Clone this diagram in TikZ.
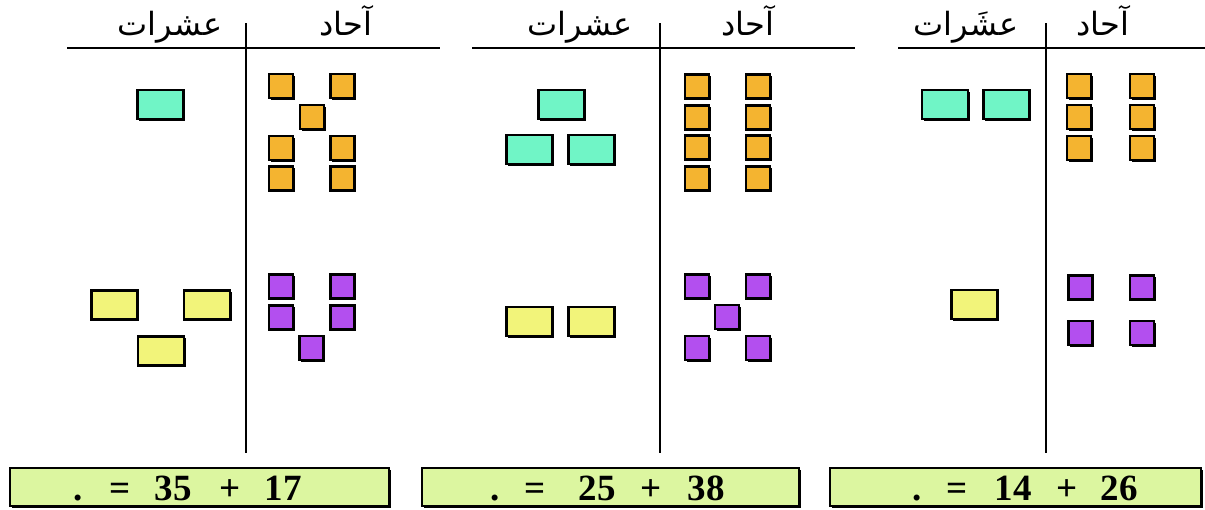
\documentclass[tikz,border=0pt]{standalone}
\usepackage{fontspec}
\setmainfont{Liberation Serif}
\newfontfamily\arabicfont[Script=Arabic]{DejaVu Sans}
\TeXXeTstate=1
\usetikzlibrary{shadows}
\definecolor{tealc}{HTML}{70F5C6}
\definecolor{orangec}{HTML}{F4B430}
\definecolor{yellowc}{HTML}{F2F47A}
\definecolor{purplec}{HTML}{B34FEF}
\definecolor{boxc}{HTML}{DCF6A0}
\tikzset{
  tile/.style={draw=black, line width=2.2pt, inner sep=0pt, outer sep=0pt,
    drop shadow={shadow xshift=1.8pt, shadow yshift=-1.8pt, fill=black, opacity=1}},
  ten/.style={tile, minimum width=46pt, minimum height=29pt},
  one/.style={tile, minimum width=24pt, minimum height=24pt},
  rule/.style={line width=2.8pt, black},
  head/.style={font=\arabicfont\fontsize{32}{36}\selectfont, inner sep=0pt, anchor=base},
  eqbox/.style={draw=black, line width=2.6pt, fill=boxc,
    drop shadow={shadow xshift=1.5pt, shadow yshift=-1.5pt, fill=black, opacity=1}},
  eqtxt/.style={font=\bfseries\fontsize{37}{40}\selectfont, inner sep=0pt, anchor=base}
}
\begin{document}
\begin{tikzpicture}[x=1pt,y=-1pt]
\useasboundingbox (0,0) rectangle (1205,509);
% ---------- panel 1 ----------
\draw[rule] (67,48) coordinate (h1a) -- (440,48) coordinate (h1b);
\draw[rule] (246,23) coordinate (v1a) -- (246,453) coordinate (v1b);
\node[head] (t1) at (170,35) {\beginR عشرات\endR};
\node[head] (o1) at (346,35) {\beginR آحاد\endR};
\node[ten, fill=tealc] (p1t1) at (160.5,104.5) {};
\foreach \n/\x/\y in {a/281/86, b/342.5/86, c/312/117, d/281/148, e/342.5/148, f/281/178.5, g/342.5/178.5}
  \node[one, fill=orangec] (p1o\n) at (\x,\y) {};
\foreach \n/\x/\y in {a/114.5/305, b/207/305, c/161/351}
  \node[ten, fill=yellowc] (p1y\n) at (\x,\y) {};
\foreach \n/\x/\y in {a/281/286.5, b/342.5/286.5, c/281/317.5, d/342.5/317.5, e/311.5/348}
  \node[one, fill=purplec] (p1p\n) at (\x,\y) {};
% ---------- panel 2 ----------
\draw[rule] (472,48) coordinate (h2a) -- (855,48) coordinate (h2b);
\draw[rule] (660,23) coordinate (v2a) -- (660,453) coordinate (v2b);
\node[head] (t2) at (580,35) {\beginR عشرات\endR};
\node[head] (o2) at (748,35) {\beginR آحاد\endR};
\foreach \n/\x/\y in {a/561.5/104.5, b/529.5/149.5, c/591.5/149.5}
  \node[ten, fill=tealc] (p2t\n) at (\x,\y) {};
\foreach \n/\y in {1/86.5, 2/117.5, 3/147.5, 4/178.5}{
  \node[one, fill=orangec] (p2oa\n) at (697,\y) {};
  \node[one, fill=orangec] (p2ob\n) at (758,\y) {};
}
\foreach \n/\x/\y in {a/529.5/321.5, b/591.5/321.5}
  \node[ten, fill=yellowc] (p2y\n) at (\x,\y) {};
\foreach \n/\x/\y in {a/697/286.5, b/758/286.5, c/727/317, d/697/348, e/758/348}
  \node[one, fill=purplec] (p2p\n) at (\x,\y) {};
% ---------- panel 3 ----------
\draw[rule] (898,48) coordinate (h3a) -- (1205,48) coordinate (h3b);
\draw[rule] (1046,23) coordinate (v3a) -- (1046,453) coordinate (v3b);
\node[head] (t3) at (966,35) {\beginR عشَرات\endR};
\node[head] (o3) at (1103,35) {\beginR آحاد\endR};
\foreach \n/\x/\y in {a/945/104.5, b/1006.5/104.5}
  \node[ten, fill=tealc] (p3t\n) at (\x,\y) {};
\foreach \n/\y in {1/86, 2/117, 3/148}{
  \node[one, fill=orangec] (p3oa\n) at (1079,\y) {};
  \node[one, fill=orangec] (p3ob\n) at (1142,\y) {};
}
\node[ten, fill=yellowc] (p3ya) at (974.5,304.5) {};
\foreach \n/\x/\y in {a/1080.5/287.5, b/1142/287.5, c/1080.5/333, d/1142/333}
  \node[one, fill=purplec] (p3p\n) at (\x,\y) {};
% ---------- equation boxes ----------
\draw[eqbox] (10,468) rectangle (389,506);
\draw[eqbox] (422,468) rectangle (799,506);
\draw[eqbox] (830,468) rectangle (1201,506);
\foreach \x/\s in {78/., 120/=, 173/35, 230/+, 283/17}
  \node[eqtxt] at (\x,500) {\s};
\foreach \x/\s in {495/., 535/=, 597/25, 651/+, 706/38}
  \node[eqtxt] at (\x,500) {\s};
\foreach \x/\s in {917/., 957/=, 1013/14, 1067/+, 1119/26}
  \node[eqtxt] at (\x,500) {\s};
\end{tikzpicture}
\end{document}
